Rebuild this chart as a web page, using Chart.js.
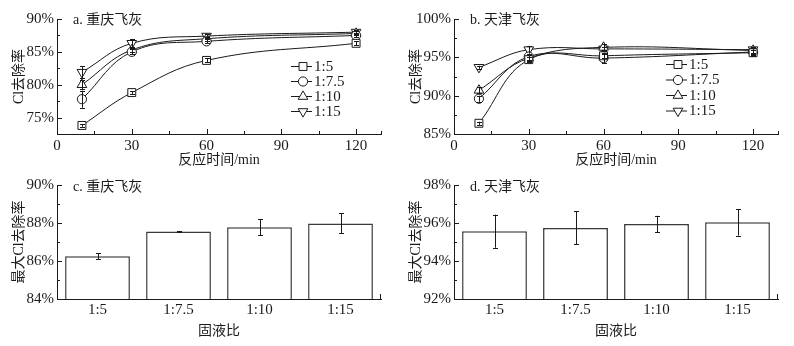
<!DOCTYPE html>
<html><head><meta charset="utf-8">
<script src="https://cdn.jsdelivr.net/npm/chart.js@4/dist/chart.umd.min.js"></script>
<style>
html,body{margin:0;padding:0;background:#fff}
body{width:794px;height:346px;position:relative;overflow:hidden}
canvas{position:absolute}
</style></head><body>
<canvas id="ca" width="397" height="173" style="left:0;top:0"></canvas>
<canvas id="cb" width="397" height="173" style="left:397px;top:0"></canvas>
<canvas id="cc" width="397" height="173" style="left:0;top:173px"></canvas>
<canvas id="cd" width="397" height="173" style="left:397px;top:173px"></canvas>
<script>
// ---------- data ----------
const times = [10, 30, 60, 120];
const ratios = ['1:5', '1:7.5', '1:10', '1:15'];

// a. 重庆飞灰 (Cl removal %, vs time)
const cq5 = [73.8, 78.8, 83.7, 86.3];
const cq75 = [77.8, 85.0, 86.6, 87.5];
const cq10 = [80.0, 85.3, 87.0, 87.8];
const cq15 = [81.9, 86.3, 87.4, 88.0];
const cq5Err = [0.2, 0.2, 0.3, 0.3];
const cq75Err = [1.3, 0.4, 0.3, 0.3];
const cq10Err = [0.7, 0.3, 0.3, 0.3];
const cq15Err = [0.9, 0.6, 0.3, 0.3];

// b. 天津飞灰
const tj5 = [86.4, 94.7, 95.2, 95.6];
const tj75 = [89.6, 95.1, 94.9, 95.7];
const tj10 = [90.7, 94.9, 96.3, 95.9];
const tj15 = [93.7, 96.0, 96.1, 96.0];
const tj5Err = [0.2, 0.3, 0.3, 0.3];
const tj75Err = [0.4, 0.4, 0.7, 0.5];
const tj10Err = [0.4, 0.4, 0.4, 0.4];
const tj15Err = [0.2, 0.5, 0.3, 0.4];

// c / d. max Cl removal
const cqMax = [86.25, 87.55, 87.78, 87.98];
const cqMaxErr = [0.17, 0.03, 0.42, 0.53];
const tjMax = [95.57, 95.74, 95.95, 96.04];
const tjMaxErr = [0.87, 0.87, 0.43, 0.70];

// tick labels
const timeTicks = [0, 30, 60, 90, 120];
const timeMinor = [15, 45, 75, 105, 130];
const aTicks = [75, 80, 85, 90];
const aMinor = [77.5, 82.5, 87.5];
const bTicks = [85, 90, 95, 100];
const bMinor = [87.5, 92.5, 97.5];
const cTicks = [84, 86, 88, 90];
const cMinor = [85, 87, 89];
const dTicks = [92, 94, 96, 98];
const dMinor = [93, 95, 97];

// ---------- style ----------
const SERIF = "'Liberation Serif', 'Noto Sans CJK SC', serif";
const INK = '#1a1a1a';
const markers = [
  {pointStyle: 'rect', rotation: 0, radius: 5.6},
  {pointStyle: 'circle', rotation: 0, radius: 4.6},
  {pointStyle: 'triangle', rotation: 0, radius: 5.6},
  {pointStyle: 'triangle', rotation: 180, radius: 5.6}
];

const deco = {
  id: 'deco',
  afterDatasetsDraw(chart, args, opts) {
    const ctx = chart.ctx;
    const ys = chart.scales.y;
    ctx.save();
    ctx.strokeStyle = INK;
    ctx.lineWidth = 1;
    chart.data.datasets.forEach((ds, di) => {
      if (!ds.errors) return;
      const meta = chart.getDatasetMeta(di);
      meta.data.forEach((el, i) => {
        const e = ds.errors[i];
        const v = ds.data[i].y !== undefined ? ds.data[i].y : ds.data[i];
        const x = Math.round(el.x) + 0.5;
        const y1 = ys.getPixelForValue(v + e), y2 = ys.getPixelForValue(v - e);
        const cap = opts.cap || 2.5;
        ctx.beginPath();
        ctx.moveTo(x, y1); ctx.lineTo(x, y2);
        ctx.moveTo(x - cap, Math.round(y1) + 0.5); ctx.lineTo(x + cap, Math.round(y1) + 0.5);
        ctx.moveTo(x - cap, Math.round(y2) + 0.5); ctx.lineTo(x + cap, Math.round(y2) + 0.5);
        ctx.stroke();
      });
    });
    ctx.restore();
  },
  afterDraw(chart, args, opts) {
    const ctx = chart.ctx;
    const xs = chart.scales.x, ys = chart.scales.y;
    const ca = chart.chartArea;
    ctx.save();
    ctx.strokeStyle = INK;
    ctx.lineWidth = 1;
    ctx.beginPath();
    (opts.yMajor || []).forEach(v => { const y = Math.round(ys.getPixelForValue(v)) + 0.5; ctx.moveTo(ca.left, y); ctx.lineTo(ca.left + 5, y); });
    (opts.yMinor || []).forEach(v => { const y = Math.round(ys.getPixelForValue(v)) + 0.5; ctx.moveTo(ca.left, y); ctx.lineTo(ca.left + 3, y); });
    (opts.xMajor || []).forEach(v => { const x = Math.round(xs.getPixelForValue(v)) + 0.5; ctx.moveTo(x, ca.bottom); ctx.lineTo(x, ca.bottom - 5); });
    (opts.xMinor || []).forEach(v => { const x = Math.round(xs.getPixelForValue(v)) + 0.5; ctx.moveTo(x, ca.bottom); ctx.lineTo(x, ca.bottom - 3); });
    if (opts.endTick) { const x = Math.round(ca.right) - 0.5; ctx.moveTo(x, ca.bottom); ctx.lineTo(x, ca.bottom - 5); }
    ctx.stroke();
    ctx.fillStyle = INK;
    ctx.font = '14px ' + SERIF;
    ctx.textBaseline = 'middle';
    ctx.textAlign = 'left';
    ctx.fillText(opts.title, ca.left + 16, ca.top + opts.titleDy);
    if (opts.legend) {
      const L = opts.legend;
      chart.data.datasets.forEach((ds, i) => {
        const y = L.y + i * L.dy;
        ctx.beginPath();
        ctx.moveTo(L.x, y + 0.5); ctx.lineTo(L.x + 21, y + 0.5);
        ctx.stroke();
        ctx.fillStyle = '#fff';
        Chart.helpers.drawPoint(ctx, {pointStyle: ds.pointStyle, rotation: ds.rotation, radius: ds.pointRadius, borderWidth: 1}, L.x + 12, y + 0.5);
        ctx.fillStyle = INK;
        ctx.font = '15px ' + SERIF;
        ctx.fillText(ds.label, L.x + 23, y + 1);
      });
    }
    ctx.restore();
  }
};

function lineSet(label, data, errs, i) {
  return {
    label, data: times.map((t, k) => ({x: t, y: data[k]})), errors: errs,
    borderColor: INK, borderWidth: 1, backgroundColor: '#fff',
    pointBorderColor: INK, pointBackgroundColor: '#fff', pointBorderWidth: 1,
    pointStyle: markers[i].pointStyle, rotation: markers[i].rotation, pointRadius: markers[i].radius,
    tension: 0.4, clip: false
  };
}

function yScale(min, max, ticks, titleText) {
  return {
    type: 'linear', min, max,
    afterBuildTicks: s => { s.ticks = ticks.map(v => ({value: v})); },
    afterFit: s => { s.width = 57; },
    grid: {display: false, drawTicks: false},
    border: {display: true, color: INK, width: 1},
    ticks: {color: INK, padding: 3, font: {family: SERIF, size: 15}, callback: v => v + '%'},
    title: {display: true, text: titleText, color: INK, font: {family: SERIF, size: 14}, padding: {top: 11, bottom: 0}}
  };
}

function lineChart(id, sets, ymin, ymax, yt, yMinor, title, legend) {
  new Chart(document.getElementById(id), {
    type: 'line',
    data: {datasets: sets},
    plugins: [deco],
    options: {
      responsive: false, animation: false,
      layout: {padding: {left: 0, right: 16, top: 19, bottom: 0}},
      plugins: {
        legend: {display: false}, tooltip: {enabled: false},
        deco: {yMajor: yt, yMinor, xMajor: timeTicks, xMinor: timeMinor, title, titleDy: 1, legend, cap: 2.5}
      },
      scales: {
        x: {
          type: 'linear', min: 0, max: 130,
          afterBuildTicks: s => { s.ticks = timeTicks.map(v => ({value: v})); },
          afterFit: s => { s.height = 39; },
          grid: {display: false, drawTicks: false},
          border: {display: true, color: INK, width: 1},
          ticks: {color: INK, padding: 3, font: {family: SERIF, size: 15}, maxRotation: 0},
          title: {display: true, text: '反应时间/min', color: INK, font: {family: SERIF, size: 14}, padding: {top: 0, bottom: 4}}
        },
        y: yScale(ymin, ymax, yt, 'Cl去除率')
      }
    }
  });
}

function barChart(id, data, errs, ymin, ymax, yt, yMinor, title) {
  new Chart(document.getElementById(id), {
    type: 'bar',
    data: {labels: ratios, datasets: [{label: '最大Cl去除率', data, errors: errs,
      backgroundColor: '#fff', borderColor: '#3a3a3a', borderWidth: 1.5, borderSkipped: 'bottom',
      barPercentage: 0.8, categoryPercentage: 1.0}]},
    plugins: [deco],
    options: {
      responsive: false, animation: false,
      layout: {padding: {left: 0, right: 16, top: 11, bottom: 0}},
      plugins: {
        legend: {display: false}, tooltip: {enabled: false},
        deco: {yMajor: yt, yMinor, endTick: true, title, titleDy: 2.5, cap: 2.5}
      },
      scales: {
        x: {
          type: 'category',
          afterFit: s => { s.height = 47; },
          grid: {display: false, drawTicks: false},
          border: {display: true, color: INK, width: 1},
          ticks: {color: INK, padding: 2, font: {family: SERIF, size: 15}, maxRotation: 0},
          title: {display: true, text: '固液比', color: INK, font: {family: SERIF, size: 14}, padding: {top: 0, bottom: 6}}
        },
        y: yScale(ymin, ymax, yt, '最大Cl去除率')
      }
    }
  });
}

lineChart('ca', [lineSet(ratios[0], cq5, cq5Err, 0), lineSet(ratios[1], cq75, cq75Err, 1), lineSet(ratios[2], cq10, cq10Err, 2), lineSet(ratios[3], cq15, cq15Err, 3)],
  72.5, 90, aTicks, aMinor, 'a. 重庆飞灰', {x: 291, y: 66, dy: 15});
lineChart('cb', [lineSet(ratios[0], tj5, tj5Err, 0), lineSet(ratios[1], tj75, tj75Err, 1), lineSet(ratios[2], tj10, tj10Err, 2), lineSet(ratios[3], tj15, tj15Err, 3)],
  85, 100, bTicks, bMinor, 'b. 天津飞灰', {x: 269, y: 64, dy: 15.5});
barChart('cc', cqMax, cqMaxErr, 84, 90, cTicks, cMinor, 'c. 重庆飞灰');
barChart('cd', tjMax, tjMaxErr, 92, 98, dTicks, dMinor, 'd. 天津飞灰');
</script>
</body></html>
